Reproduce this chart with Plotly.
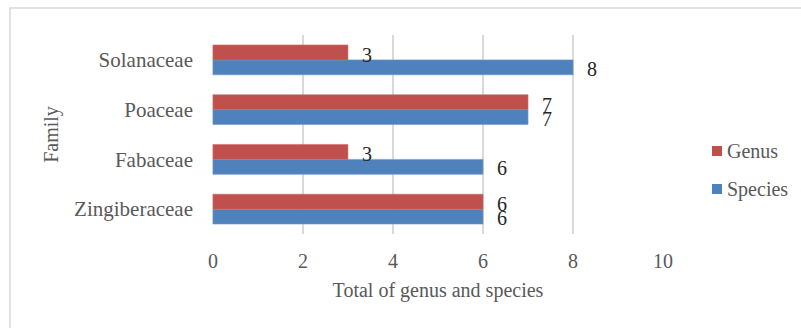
import plotly.graph_objects as go

families = ["Zingiberaceae", "Fabaceae", "Poaceae", "Solanaceae"]
genus = [6, 3, 7, 3]
species = [6, 6, 7, 8]
x_ticks = [0, 2, 4, 6, 8, 10]

RED = "#C0504D"
BLUE = "#4F81BD"
FONT = "Liberation Serif"
GRAY = "#595959"
LABEL = "#262626"

W, H = 801, 328
L, R, T, B = 212, 137, 35, 94
PW, PH = W - L - R, H - T - B


def px(xp):
    return (xp - L) / PW


def py(yp):
    return (H - B - yp) / PH


fig = go.Figure()
fig.add_trace(go.Bar(
    y=families, x=species, name="Species", orientation="h",
    marker=dict(color=BLUE, line=dict(width=0.6, color="#6F99CF")),
    showlegend=False,
))
fig.add_trace(go.Bar(
    y=families, x=genus, name="Genus", orientation="h",
    marker=dict(color=RED, line=dict(width=0.6, color="#D06E6B")),
    showlegend=False,
))

annotations = []
# value labels next to each bar end
for fam, g, s in zip(families, genus, species):
    for val, dy in ((g, 5), (s, -9)):
        annotations.append(dict(
            x=val, y=fam, xref="x", yref="y", text=str(val),
            showarrow=False, xanchor="left", yanchor="middle",
            xshift=12, yshift=dy,
            font=dict(family=FONT, size=20, color=LABEL),
        ))

# legend entries
shapes = []
for name, color, cy in (("Genus", RED, 151), ("Species", BLUE, 189)):
    shapes.append(dict(
        type="rect", xref="paper", yref="paper",
        x0=px(712), x1=px(722), y0=py(cy + 5), y1=py(cy - 5),
        fillcolor=color, line=dict(width=0),
    ))
    annotations.append(dict(
        x=px(725), y=py(cy), xref="paper", yref="paper", text=name,
        showarrow=False, xanchor="left", yanchor="middle",
        font=dict(family=FONT, size=20, color=GRAY),
    ))

# chart frame
shapes.append(dict(
    type="rect", xref="paper", yref="paper",
    x0=px(10), x1=px(W + 20), y0=py(H + 20), y1=py(8),
    line=dict(color="#D9D9D9", width=1.5), fillcolor="rgba(0,0,0,0)",
    layer="below",
))

fig.update_layout(
    width=W, height=H,
    margin=dict(l=L, r=R, t=T, b=B),
    paper_bgcolor="white", plot_bgcolor="white",
    barmode="group", bargap=0.4, bargroupgap=0,
    font=dict(family=FONT, size=20, color=GRAY),
    showlegend=False,
    xaxis=dict(
        range=[-0.02, 10.02], tickvals=x_ticks, showgrid=True,
        gridcolor="#D9D9D9", gridwidth=1.5, zeroline=False, showline=False,
        tickfont=dict(family=FONT, size=20, color=GRAY),
        ticklabelstandoff=13,
        title=dict(text="Total of genus and species", standoff=11,
                   font=dict(family=FONT, size=20, color=GRAY)),
    ),
    yaxis=dict(
        showgrid=False, zeroline=False, showline=False,
        tickfont=dict(family=FONT, size=21, color=GRAY),
        ticklabelstandoff=18,
        title=dict(text="Family", standoff=10,
                   font=dict(family=FONT, size=20, color=GRAY)),
    ),
    shapes=shapes,
    annotations=annotations,
)

fig.write_html("out.html")
